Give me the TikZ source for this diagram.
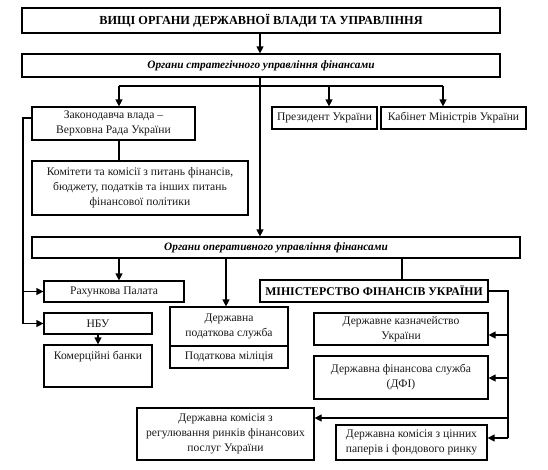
\documentclass[tikz,border=0pt]{standalone}
\usepackage{fontspec}
\setmainfont{Liberation Serif}
\usetikzlibrary{arrows.meta}
\begin{document}
\begin{tikzpicture}[x=1pt,y=-1pt,
  box/.style={draw, line width=1.2pt, inner sep=1pt, align=center,
    font=\fontsize{11.6}{15}\selectfont, text=black!90},
  bold/.style={font=\bfseries\fontsize{12.3}{14}\selectfont, text=black},
  boldit/.style={font=\bfseries\itshape\fontsize{11.3}{14}\selectfont, text=black},
  arr/.style={-{Triangle[length=7pt,width=7pt]}, line width=1.2pt},
  ln/.style={line width=1.2pt}]
\useasboundingbox (0,0) rectangle (548,469);
% boxes
\node[box,bold,minimum width=478,minimum height=25] (top) at (261,20.5) {ВИЩІ ОРГАНИ ДЕРЖАВНОЇ ВЛАДИ ТА УПРАВЛІННЯ};
\node[box,boldit,minimum width=478,minimum height=23] (strat) at (261,65.5) {Органи стратегічного управління фінансами};
\node[box,minimum width=163,minimum height=33] (zak) at (113.5,123.5) {Законодавча влада –\\Верховна Рада України};
\node[box,minimum width=216,minimum height=54] (kom) at (140,188) {Комітети та комісії з питань фінансів,\\бюджету, податків та інших питань\\фінансової політики};
\node[box,minimum width=105,minimum height=22] (prez) at (324.5,118) {Президент України};
\node[box,minimum width=145,minimum height=22] (kab) at (453.5,118) {Кабінет Міністрів України};
\node[box,boldit,minimum width=488,minimum height=21] (oper) at (276,247.5) {Органи оперативного управління фінансами};
\node[box,minimum width=140,minimum height=21] (rah) at (114,291.5) {Рахункова Палата};
\node[box,minimum width=108,minimum height=21] (nbu) at (98,323.5) {НБУ};
\node[box,minimum width=108,minimum height=42,
  label={[anchor=north,yshift=-3pt,font=\fontsize{11.6}{15}\selectfont,text=black!90]north:Комерційні банки}] (komb) at (98,366) {};
\node[box,minimum width=118,minimum height=39] (dps) at (229,326.5) {Державна\\податкова служба};
\node[box,minimum width=118,minimum height=22] (pm) at (229,357) {Податкова міліція};
\node[box,bold,font=\bfseries\fontsize{11.8}{14}\selectfont,minimum width=228,minimum height=22] (mf) at (374,291) {МІНІСТЕРСТВО ФІНАНСІВ УКРАЇНИ};
\node[box,minimum width=174,minimum height=32] (dku) at (401,329) {Державне казначейство\\України};
\node[box,minimum width=174,minimum height=43] (dfs) at (401,377.5) {Державна фінансова служба\\(ДФІ)};
\node[box,minimum width=177,minimum height=52] (dkr) at (225.5,434) {Державна комісія з\\регулювання ринків фінансових\\послуг України};
\node[box,minimum width=151,minimum height=35] (dkc) at (411.5,442.5) {Державна комісія з цінних\\паперів і фондового ринку};
% helper coordinates
\coordinate (spine) at (260,0);
\coordinate (busL) at (119,86);
\coordinate (busP) at (329,86);
\coordinate (busK) at (443,86);
\coordinate (lft) at (23,118);
\coordinate (rgt) at (508,291);
% connectors
\draw[arr] (top.south -| spine) -- (strat.north -| spine);
\draw[arr] (strat.south -| spine) -- (oper.north -| spine);
\draw[ln] (busL) -- (busK);
\draw[arr] (busL) -- (busL |- zak.north);
\draw[arr] (busP) -- (busP |- prez.north);
\draw[arr] (busK) -- (busK |- kab.north);
\draw[ln] (zak.south -| busL) -- (kom.north -| busL);
\draw[ln] (zak.west |- lft) -- (lft) -- (lft |- nbu.west);
\draw[arr] (lft |- rah.west) -- (rah.west);
\draw[arr] (lft |- nbu.west) -- (nbu.west);
\draw[arr] (oper.south -| busL) -- (rah.north -| busL);
\draw[arr] (oper.south -| 226,0) -- (dps.north -| 226,0);
\draw[ln] (oper.south -| 402,0) -- (mf.north -| 402,0);
\draw[arr] (nbu.south) -- (komb.north);
\draw[ln] (mf.east |- rgt) -- (rgt) -- (rgt |- 0,438);
\draw[arr] (rgt |- 0,335) -- (dku.east |- 0,335);
\draw[arr] (rgt |- 0,378) -- (dfs.east |- 0,378);
\draw[arr] (rgt |- 0,418) -- (dkr.east |- 0,418);
\draw[arr] (rgt |- 0,438) -- (dkc.east |- 0,438);
\end{tikzpicture}
\end{document}
